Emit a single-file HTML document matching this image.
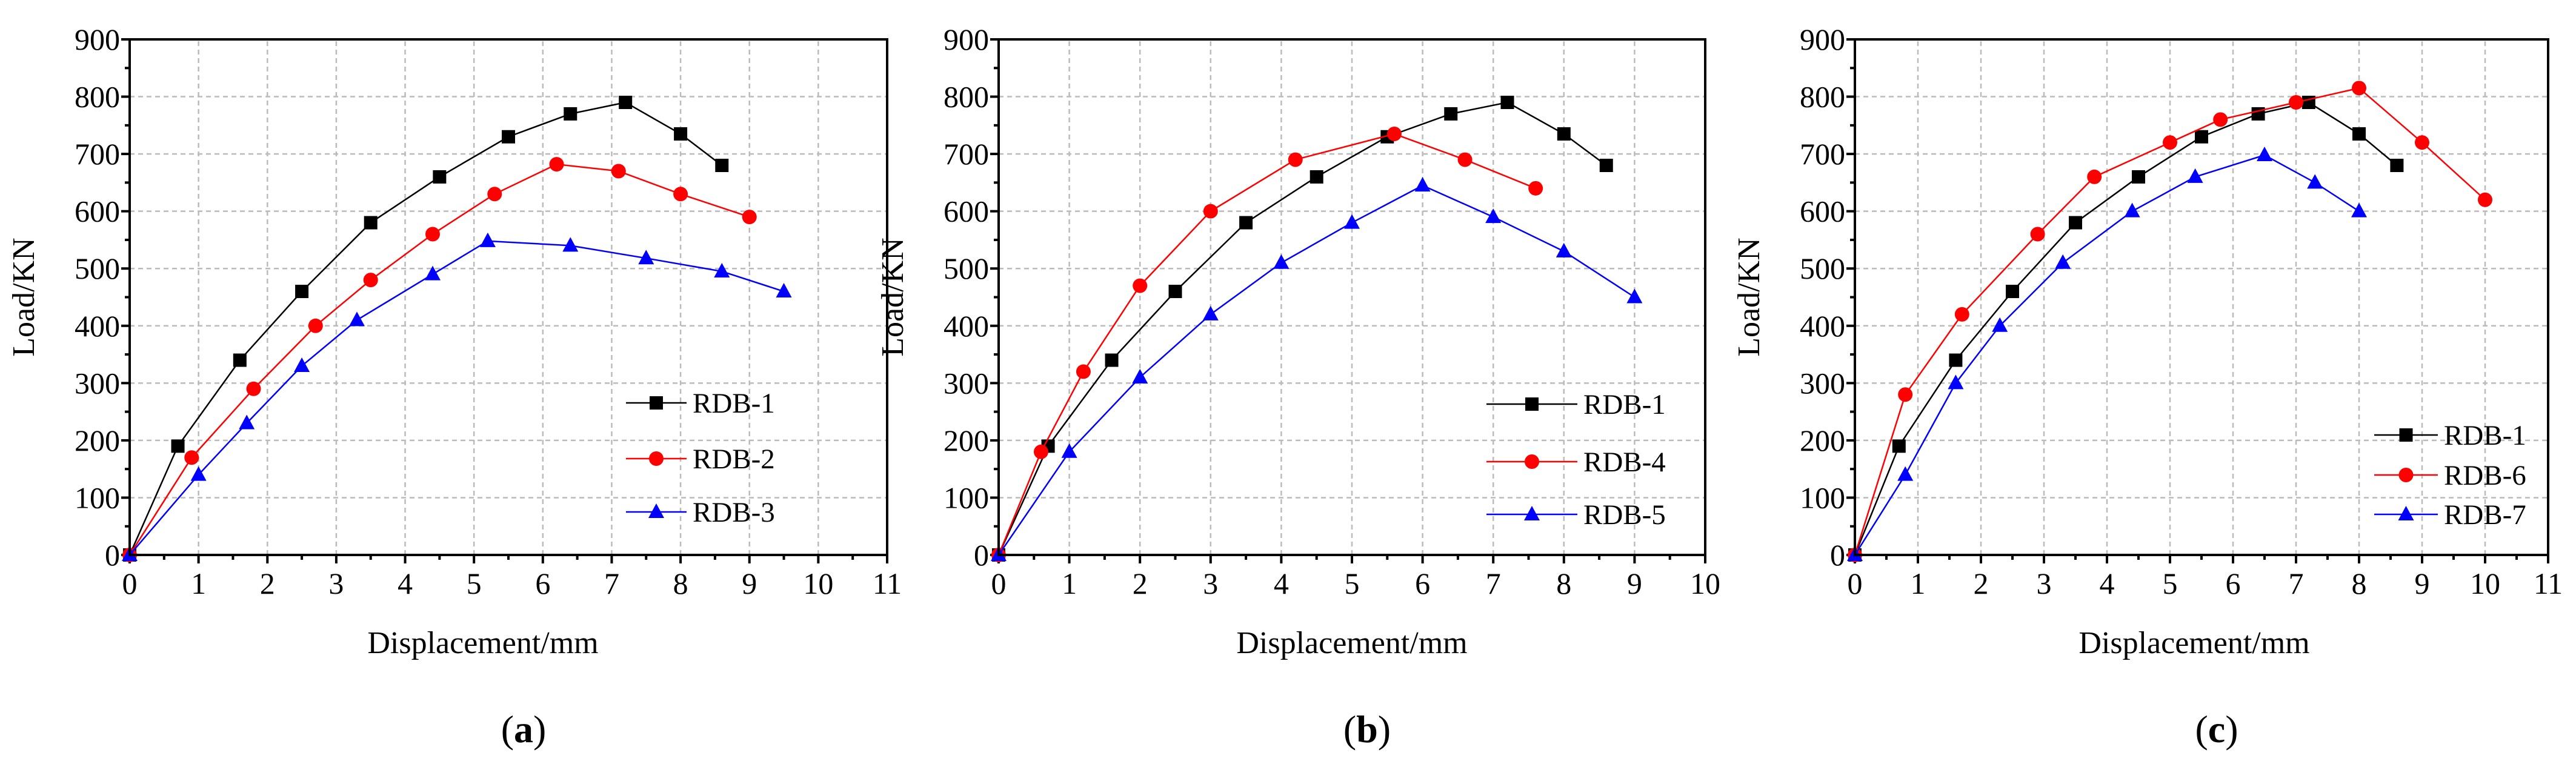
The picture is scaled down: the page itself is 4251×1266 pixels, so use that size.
<!DOCTYPE html>
<html><head><meta charset="utf-8"><style>
html,body{margin:0;padding:0;background:#fff}
svg{display:block}
text{font-family:"Liberation Serif",serif;fill:#000}
</style></head><body>
<svg id="chart" width="4251" height="1266" viewBox="0 0 4251 1266" xmlns="http://www.w3.org/2000/svg"></svg>
<script>
// Panel (a)
const aRDB1x=[0,0.7,1.6,2.5,3.5,4.5,5.5,6.4,7.2,8,8.6];
const aRDB1y=[0,190,340,460,580,660,730,770,790,735,680];
const aRDB2x=[0,0.9,1.8,2.7,3.5,4.4,5.3,6.2,7.1,8,9];
const aRDB2y=[0,170,290,400,480,560,630,682,670,630,590];
const aRDB3x=[0,1,1.7,2.5,3.3,4.4,5.2,6.4,7.5,8.6,9.5];
const aRDB3y=[0,140,230,330,410,490,548,540,518,495,460];
// Panel (b)
const bRDB4x=[0,0.6,1.2,2,3,4.2,5.6,6.6,7.6];
const bRDB4y=[0,180,320,470,600,690,735,690,640];
const bRDB5x=[0,1,2,3,4,5,6,7,8,9];
const bRDB5y=[0,180,310,420,510,580,645,590,530,450];
// Panel (c)
const cRDB6x=[0,0.8,1.7,2.9,3.8,5,5.8,7,8,9,10];
const cRDB6y=[0,280,420,560,660,720,760,790,815,720,620];
const cRDB7x=[0,0.8,1.6,2.3,3.3,4.4,5.4,6.5,7.3,8];
const cRDB7y=[0,140,300,400,510,600,660,698,650,600];
const yTicks=[0,100,200,300,400,500,600,700,800,900];
const xTicksA=[0,1,2,3,4,5,6,7,8,9,10,11];
const xTicksB=[0,1,2,3,4,5,6,7,8,9,10];

const NS="http://www.w3.org/2000/svg";
const svg=document.getElementById('chart');
function mk(tag,attrs,parent){const e=document.createElementNS(NS,tag);for(const k in attrs)e.setAttribute(k,attrs[k]);(parent||svg).appendChild(e);return e;}

const panels=[
 {id:'a',x0:214,x1:1464,xmax:11,xt:xTicksA,tdx:-42,series:[['RDB-1',aRDB1x,aRDB1y,'#000','sq'],['RDB-2',aRDB2x,aRDB2y,'#f00','ci'],['RDB-3',aRDB3x,aRDB3y,'#00f','tr']],leg:{lx:1033,len:100,ly:[665,757,845]}},
 {id:'b',x0:1648,x1:2814,xmax:10,xt:xTicksB,tdx:0,series:[['RDB-1',aRDB1x,aRDB1y,'#000','sq'],['RDB-4',bRDB4x,bRDB4y,'#f00','ci'],['RDB-5',bRDB5x,bRDB5y,'#00f','tr']],leg:{lx:2453,len:150,ly:[667,762,849]}},
 {id:'c',x0:3061,x1:4205,xmax:11,xt:xTicksA,tdx:-12,series:[['RDB-1',aRDB1x,aRDB1y,'#000','sq'],['RDB-6',cRDB6x,cRDB6y,'#f00','ci'],['RDB-7',cRDB7x,cRDB7y,'#00f','tr']],leg:{lx:3918,len:105,ly:[718,784,849]}}
];
const Y0=916,Y1=65;
function marker(g,t,cx,cy,col){
 if(t==='sq')return mk('rect',{x:cx-11,y:cy-11,width:22,height:22,fill:col},g);
 if(t==='ci')return mk('circle',{cx:cx,cy:cy,r:12,fill:col},g);
 return mk('polygon',{points:`${cx},${cy-14} ${cx-13},${cy+10} ${cx+13},${cy+10}`,fill:col},g);
}
panels.forEach(p=>{
 const g=mk('g',{});
 
 
 const sx=v=>p.x0+(p.x1-p.x0)*v/p.xmax;
 const sy=v=>Y0+(Y1-Y0)*v/900;
 const grid=mk('g',{stroke:'#bbb','stroke-width':2.5,'stroke-dasharray':'8,6'},g);
 
 
 p.xt.forEach(v=>{if(v>0&&v<p.xmax)mk('line',{x1:sx(v),x2:sx(v),y1:Y0,y2:Y1},grid);});
 yTicks.forEach(v=>{if(v>0&&v<900)mk('line',{x1:p.x0,x2:p.x1,y1:sy(v),y2:sy(v)},grid);});
 const tk=mk('g',{stroke:'#000','stroke-width':4},g);
 for(let v=0;v<=p.xmax+1e-9;v+=0.5){const maj=Math.abs(v-Math.round(v))<1e-9;mk('line',{x1:sx(v),x2:sx(v),y1:Y0,y2:Y0+(maj?14:8)},tk);}
 for(let v=0;v<=900;v+=50){const maj=v%100===0;mk('line',{x1:p.x0,x2:p.x0-(maj?14:8),y1:sy(v),y2:sy(v)},tk);}
 const xl=mk('g',{'font-size':50,'text-anchor':'middle'},g);
 
 
 p.xt.forEach(v=>{const t=mk('text',{x:sx(v),y:Y0+64},xl);t.textContent=v;});
 const yl=mk('g',{'font-size':50,'text-anchor':'end'},g);
 
 
 yTicks.forEach(v=>{const t=mk('text',{x:p.x0-16,y:sy(v)+17},yl);t.textContent=v;});
 const xt=mk('text',{x:(p.x0+p.x1)/2+p.tdx,y:1078,'font-size':52,'text-anchor':'middle'},g);
 xt.textContent='Displacement/mm';
 
 
 const yt=mk('text',{x:0,y:0,'font-size':52,'text-anchor':'middle',transform:`translate(${p.x0-158},${(Y0+Y1)/2}) rotate(-90)`},g);
 yt.textContent='Load/KN';
 
 
 const pl=mk('text',{x:(p.x0+p.x1)/2+25,y:1225,'font-size':64,'text-anchor':'middle'},g);
 pl.innerHTML='(<tspan font-weight="bold">'+p.id+'</tspan>)';
 
 
 p.series.forEach((s,i)=>{
  const sg=mk('g',{},g);
  
  
  const pts=s[1].map((x,j)=>sx(x)+','+sy(s[2][j])).join(' ');
  mk('polyline',{points:pts,fill:'none',stroke:s[3],'stroke-width':2.5},sg);
  s[1].forEach((x,j)=>{const m=marker(sg,s[4],sx(x),sy(s[2][j]),s[3]);});
  const lg=mk('g',{},g);
  
  
  const ly=p.leg.ly[i];
  mk('line',{x1:p.leg.lx,x2:p.leg.lx+p.leg.len,y1:ly,y2:ly,stroke:s[3],'stroke-width':2.5},lg);
  marker(lg,s[4],p.leg.lx+p.leg.len/2,ly,s[3]);
  const t=mk('text',{x:p.leg.lx+p.leg.len+10,y:ly+16,'font-size':47},lg);t.textContent=s[0];
 });
 const fr=mk('rect',{x:p.x0,y:Y1,width:p.x1-p.x0,height:Y0-Y1,fill:'none',stroke:'#000','stroke-width':4},g);
 
 
});
</script>
</body></html>
